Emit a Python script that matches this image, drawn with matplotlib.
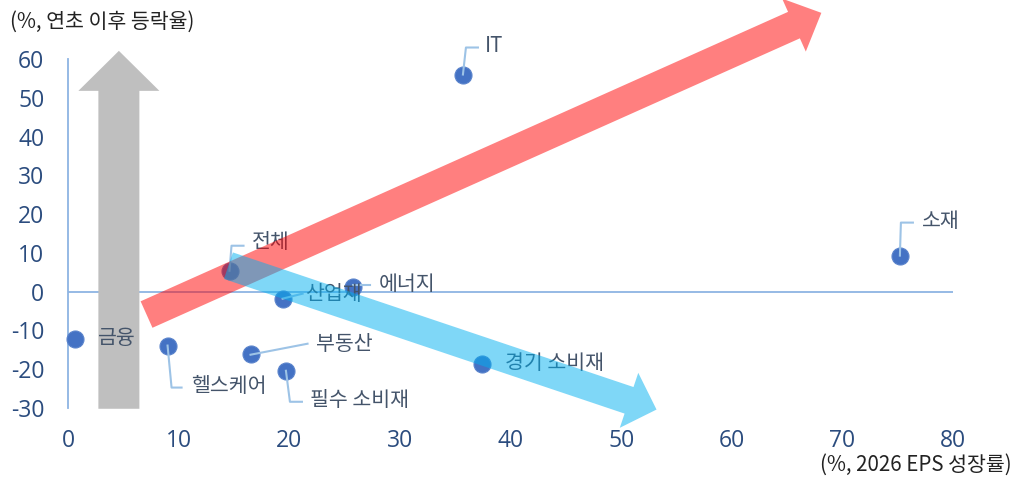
import numpy as np
import matplotlib
matplotlib.use("Agg")
import matplotlib.pyplot as plt
from matplotlib.patches import FancyArrow
from matplotlib.lines import Line2D
from matplotlib.transforms import IdentityTransform

plt.rcParams['font.family'] = ['Noto Sans CJK KR', 'DejaVu Sans']
plt.rcParams['axes.unicode_minus'] = False

# sector data: 2026 EPS growth (x) vs YTD return (y)
sectors = ['금융', '헬스케어', '전체', '부동산', '필수 소비재', '산업재',
           '에너지', 'IT', '경기 소비재', '소재']
eps_growth = [0.6, 9.0, 14.6, 16.5, 19.7, 19.4, 25.8, 35.7, 37.4, 75.2]
ytd_return = [-12.1, -13.9, 5.4, -16.0, -20.4, -1.8, 1.3, 56.0, -18.6, 9.3]

xticks = list(range(0, 81, 10))
yticks = list(range(-30, 61, 10))

# label placement (pixel offsets from the point): leader polyline, text position
leaders = {
    '금융': ([], (23, 1)),
    '헬스케어': ([(0, 0), (4, -42), (14, -42)], (24, -40)),
    '전체': ([(0, 0), (2, 25), (14, 25)], (22, 29)),
    '부동산': ([(0, -1), (57, 10)], (65, 10)),
    '필수 소비재': ([(0, 0), (4, -31), (16, -31)], (24, -29)),
    '산업재': ([(0, 0), (20, 5)], (22, 5)),
    '에너지': ([(0, 2), (17, 2)], (25, 3)),
    'IT': ([(0, 0), (3, 27), (15, 27)], (22, 29)),
    '경기 소비재': ([], (23, 1)),
    '소재': ([(0, 0), (1, 33), (13, 33)], (22, 35)),
}

tick_color = '#2B4C7E'
label_color = '#44546A'
axis_color = '#8EB4E3'

fig = plt.figure(figsize=(10.16, 4.79), dpi=100)
ax = fig.add_axes([68 / 1016, 71 / 479, 885 / 1016, 349 / 479])
ax.set_xlim(0, 80)
ax.set_ylim(-30, 60)
ax.set_xticks(xticks)
ax.set_yticks(yticks)
ax.tick_params(length=0, labelsize=16.5, colors=tick_color)
ax.tick_params(axis='y', pad=17)
ax.tick_params(axis='x', pad=15)
for lab in ax.get_xticklabels() + ax.get_yticklabels():
    lab.set_family('Open Sans')
for s in ['top', 'right', 'bottom']:
    ax.spines[s].set_visible(False)
ax.spines['left'].set_color(axis_color)
ax.spines['left'].set_linewidth(1.3)
ax.axhline(0, color=axis_color, lw=1.3, zorder=1)

fig.text(10 / 1016, 1 - 22 / 479, '(%, 연초 이후 등락율)', fontsize=14.8,
         color='#222222', va='center', ha='left')
fig.text(1012 / 1016, 1 - 465 / 479, '(%, 2026 EPS 성장률)', fontsize=14.8,
         color='#222222', va='center', ha='right')


def arrow(tail, tip, width, head_width, head_length, **kw):
    p0 = ax.transData.transform(tail)
    p1 = ax.transData.transform(tip)
    d = p1 - p0
    a = FancyArrow(p0[0], p0[1], d[0], d[1], width=width, head_width=head_width,
                   head_length=head_length, length_includes_head=True,
                   transform=IdentityTransform(), lw=0, **kw)
    fig.add_artist(a)


# gray arrow behind everything
arrow((4.6, -30.2), (4.6, 62.1), 41, 81, 40, color='#BFBFBF', zorder=0.5)

ax.scatter(eps_growth, ytd_return, s=150, color='#4472C4', edgecolor='#5B84CC',
           lw=0.8, zorder=3, clip_on=False)

for name, x, y in zip(sectors, eps_growth, ytd_return):
    pts, (tx, ty) = leaders[name]
    base = ax.transData.transform((x, y))
    if pts:
        arr = np.array(pts, dtype=float) + base
        fig.add_artist(Line2D(arr[:, 0], arr[:, 1], color='#9DC3E6', lw=1.5,
                              transform=IdentityTransform(), zorder=2.5))
    fig.text(base[0] + tx, base[1] + ty, name, transform=IdentityTransform(),
             fontsize=14.8, color=label_color, ha='left', va='center', zorder=4)

# translucent trend arrows on top
arrow((7.1, -5.9), (68.1, 71.9), 29, 58, 30, color='#FF0000', alpha=0.5, zorder=5)
arrow((14.5, 6.7), (53.2, -30.4), 28, 58, 29, color='#00B0F0', alpha=0.5, zorder=5)

fig.savefig('out.png', dpi=100)
